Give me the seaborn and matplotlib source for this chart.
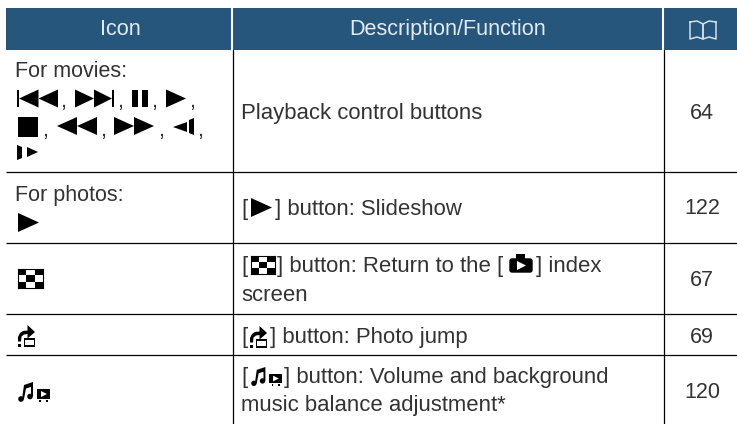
import matplotlib
matplotlib.use("Agg")
import matplotlib.pyplot as plt
from matplotlib.colors import ListedColormap
from matplotlib.patches import Polygon, Rectangle, Circle, FancyBboxPatch
import seaborn as sns

# table content
headers = ["Icon", "Description/Function"]
page_numbers = ["64", "122", "67", "69", "120"]
descriptions = ["Playback control buttons", "button: Slideshow"]
checker = [[1, 0, 1], [0, 1, 0], [1, 0, 1]]

NAVY = "#26567c"
INK = "#333333"

sns.set_theme(style="white")
plt.rcParams["font.family"] = ["Liberation Sans", "DejaVu Sans"]

fig = plt.figure(figsize=(7.37, 4.24), dpi=100)
ax = fig.add_axes([0, 0, 1, 1])
ax.set_xlim(0, 737)
ax.set_ylim(424, 0)
ax.axis("off")


def txt(x, y, s, ha="left", color=INK, size=15.9):
    ax.text(x, y, s, ha=ha, va="baseline", color=color, fontsize=size)


def poly(pts, color="black"):
    ax.add_patch(Polygon(pts, closed=True, fc=color, ec="none"))


def box(x0, y0, x1, y1, color="black"):
    ax.add_patch(Rectangle((x0, y0), x1 - x0, y1 - y0, fc=color, ec="none"))


def tri_r(x0, x1, yc, h):
    poly([(x0, yc - h / 2), (x1, yc), (x0, yc + h / 2)])


def tri_l(x0, x1, yc, h):
    poly([(x1, yc - h / 2), (x0, yc), (x1, yc + h / 2)])


def check_icon(x0, y0, w, h):
    # little checkerboard, drawn as a heatmap on its own axes
    sub = fig.add_axes([x0 / 737, 1 - (y0 + h) / 424, w / 737, h / 424])
    sns.heatmap(checker, ax=sub, cmap=ListedColormap(["white", "black"]), cbar=False,
                xticklabels=False, yticklabels=False, linewidths=0)
    for s in sub.spines.values():
        s.set_visible(True)
        s.set_color("black")
        s.set_linewidth(0.8)


def jump_icon(x, y):
    box(x + 6, y + 13, x + 17.5, y + 21.5)
    box(x + 7.5, y + 14.5, x + 16, y + 20, "white")
    box(x, y + 19, x + 3, y + 21.5)
    poly([(x, y + 16.5), (x, y + 12), (x + 2, y + 8), (x + 5, y + 6), (x + 9.5, y + 5.5),
          (x + 9.5, y), (x + 17, y + 7), (x + 9.5, y + 13.5), (x + 9.5, y + 9), (x + 6, y + 9.5),
          (x + 3.5, y + 11.5), (x + 3, y + 16.5)])


def music_icon(x, y, s=1.0):
    # two notes
    ax.add_patch(Circle((x + 3 * s, y + 17 * s), 2.8 * s, fc="black", ec="none"))
    ax.add_patch(Circle((x + 12 * s, y + 14.5 * s), 2.8 * s, fc="black", ec="none"))
    poly([(x + 4 * s, y + 17 * s), (x + 6 * s, y + 3 * s), (x + 15 * s, y), (x + 15 * s, y + 14 * s),
          (x + 13 * s, y + 14 * s), (x + 13 * s, y + 5 * s), (x + 8 * s, y + 6.5 * s), (x + 6 * s, y + 17 * s)])
    # small screen
    box(x + 19 * s, y + 7 * s, x + 32 * s, y + 17 * s)
    poly([(x + 23 * s, y + 9 * s), (x + 29 * s, y + 12 * s), (x + 23 * s, y + 15 * s)], "white")
    for dx in (21.5, 28.5):
        box(x + dx * s, y + 17.5 * s, x + (dx + 1.5) * s, y + 20 * s)


def camera_icon(x, y):
    ax.add_patch(FancyBboxPatch((x + 1, y + 5), 22, 13, boxstyle="round,pad=0,rounding_size=2",
                                fc="black", ec="black", lw=1))
    box(x + 7, y, x + 16, y + 6)
    poly([(x + 8, y + 7), (x + 17, y + 11.5), (x + 8, y + 16)], "white")


# header band
box(6.5, 8, 737, 50, NAVY)
ax.plot([232.5, 232.5], [8, 50], color="white", lw=1.5)
ax.plot([663, 663], [8, 50], color="white", lw=1.5)
txt(120, 35, headers[0], ha="center", color="#e3ebf1", size=15.6)
txt(448, 35, headers[1], ha="center", color="#e3ebf1", size=15.6)

# book icon in the header
book = "#d5e0e8"
ax.plot([690, 697, 703, 703, 697, 690, 690], [22, 21, 24, 39, 37, 39, 22], color=book, lw=1.1)
ax.plot([716, 709, 703, 703, 709, 716, 716], [22, 21, 24, 39, 37, 39, 22], color=book, lw=1.1)

# grid lines
for y in [172, 243, 314, 355]:
    ax.plot([6, 737], [y, y], color="black", lw=0.9, solid_capstyle="butt")
ax.plot([233.5, 233.5], [50, 424], color="black", lw=0.9)
ax.plot([664, 664], [50, 424], color="black", lw=0.9)

# icon column, first row
txt(15, 77, "For movies:", size=15.5)
box(17, 90, 19, 107); tri_l(19, 38.5, 98.5, 18); tri_l(38.5, 58, 98.5, 18)
txt(60, 107, ",")
tri_r(75, 94, 98.5, 18); tri_r(94, 112, 98.5, 18); box(112, 90, 114, 107)
txt(117, 107, ",")
box(132, 90, 138, 107); box(142, 90, 148, 107)
txt(151, 107, ",")
tri_r(166, 186, 98.5, 18)
txt(189, 107, ",")
box(18, 117, 38, 137)
txt(42, 136, ",")
tri_l(57, 77, 126, 18); tri_l(77, 97, 126, 18)
txt(100, 136, ",")
tri_r(114, 134, 126, 18); tri_r(134, 154, 126, 18)
txt(158, 136, ",")
tri_l(173, 187, 127, 10)
poly([(189, 120), (194, 118), (194, 135), (189, 133)])
txt(197, 136, ",")
poly([(17, 145), (22, 147), (22, 158), (17, 160)])
tri_r(27, 38, 152, 10)

# other rows of icon column
txt(15, 201, "For photos:", size=15.5)
tri_r(18, 39, 222.5, 19)
check_icon(18, 269, 25, 19)
jump_icon(18, 325)
music_icon(18, 382)

# description column
txt(241, 119, descriptions[0])
txt(241, 215, "[")
tri_r(251, 272, 207.5, 19)
txt(275, 215, "] " + descriptions[1])
txt(241, 272, "[")
check_icon(251, 256, 24, 18)
txt(277, 272, "] button: Return to the [")
camera_icon(509, 254)
txt(536, 272, "] index")
txt(241, 301, "screen")
txt(241, 343, "[")
jump_icon(250, 326)
txt(270, 343, "] button: Photo jump")
txt(241, 383, "[")
music_icon(251, 367, 0.96)
txt(284, 383, "] button: Volume and background")
txt(241, 411, "music balance adjustment*")

# page column
for y, p in zip([119, 214, 286, 343, 398], page_numbers):
    txt(702, y, p, ha="center", size=15.5)

fig.savefig("out.png", dpi=100)
